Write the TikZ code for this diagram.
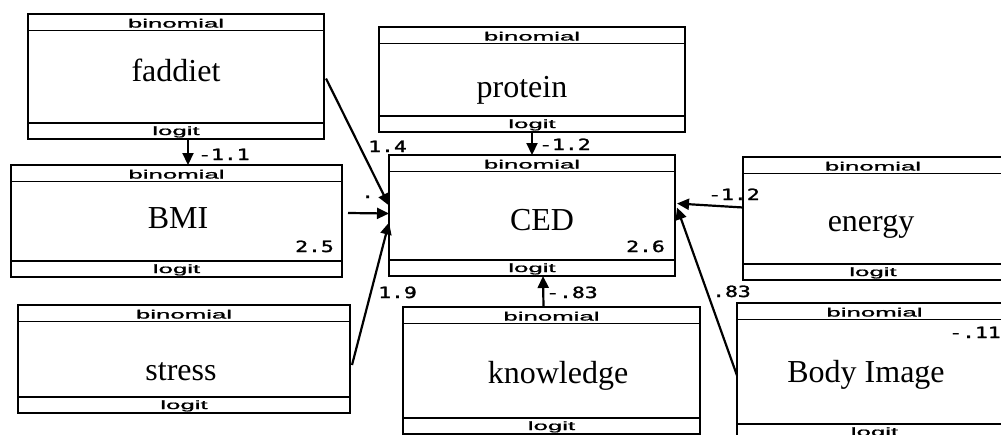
\documentclass[tikz,border=0pt]{standalone}
\usepackage{fontspec}
\setmainfont{Liberation Serif}
\newfontfamily\lblfont[FakeBold=1]{Liberation Sans}
\newfontfamily\numfont[FakeBold=1.5]{DejaVu Sans Mono}
\usetikzlibrary{arrows.meta,calc}
\tikzset{
  box/.style={draw, line width=2.6pt, rectangle, inner sep=0pt, outer sep=0pt},
  sepline/.style={line width=1.7pt},
  hdr/.style={anchor=base, inner sep=0pt, font=\lblfont\fontsize{12}{12}\selectfont},
  ttl/.style={anchor=base, inner sep=0pt, font=\fontsize{32}{32}\selectfont},
  num/.style={anchor=base west, inner sep=0pt, font=\numfont\fontsize{15.5}{15.5}\selectfont},
  arr/.style={line width=2.2pt, -{Triangle[length=12pt,width=11pt]}},
}
\newcommand{\wide}[1]{\scalebox{2.15}[1]{#1}}
\newcommand{\wnum}[1]{\scalebox{1.38}[1]{#1}}
% #1 name, #2 x1, #3 y1, #4 x2, #5 y2, #6 title, #7 title x, #8 title baseline
\newcommand{\semnode}[8]{%
  \node[box, minimum width={(#4)-(#2)}, minimum height={(#5)-(#3)}] (#1) at ({((#2)+(#4))/2},{((#3)+(#5))/2}) {};
  \draw[sepline] ([yshift=-16.5pt]#1.north west) -- ([yshift=-16.5pt]#1.north east);
  \draw[sepline] ([yshift=16pt]#1.south west) -- ([yshift=16pt]#1.south east);
  \node[hdr] (#1-h) at ([yshift=-13.5pt]#1.north) {\wide{binomial}};
  \node[hdr] (#1-f) at ([yshift=4pt]#1.south) {\wide{logit}};
  \node[ttl] (#1-t) at (#7,#8) {#6};
}
\begin{document}
\begin{tikzpicture}[x=1pt,y=-1pt]
\useasboundingbox (0,0) rectangle (1001,434);
\clip (0,0) rectangle (1001,434);
\fill[white] (0,0) rectangle (1001,434);
% coefficient labels
\node[num] (l-fb) at (198,160) {\wnum{-1.1}};
\node[num] (l-pc) at (539,150) {\wnum{-1.2}};
\node[num] (l-fc) at (368,152) {\wnum{1.4}};
\node[num] (l-bmi) at (295,252) {\wnum{2.5}};
\node[num] (l-ced) at (626,252) {\wnum{2.6}};
\node[num] (l-sc) at (378,298) {\wnum{1.9}};
\node[num] (l-kc) at (546,298) {\wnum{-.83}};
\node[num] (l-ec) at (708,200) {\wnum{-1.2}};
\node[num] (l-bc) at (712,297) {\wnum{.83}};
\node[num] (l-body) at (949,338) {\wnum{-.11}};
\node[num] (l-bmic) at (361,198) {\wnum{.}};
% boxes
\semnode{faddiet}{28}{14}{324}{139}{faddiet}{176}{81}
\semnode{protein}{379}{27}{685}{132}{protein}{522}{97}
\semnode{BMI}{11}{165}{342}{277}{BMI}{178}{228}
\semnode{CED}{389}{155}{675}{276}{CED}{542}{230}
\semnode{stress}{18}{305}{350}{413}{stress}{181}{380}
\semnode{knowledge}{403}{307}{700}{434}{knowledge}{558}{383}
\semnode{energy}{743}{157}{1003}{280}{energy}{871}{231}
\semnode{body}{737}{303}{1012}{440}{Body Image}{866}{382}
% connectors
\draw[arr] ($(faddiet.south)+(12,0)$) -- ($(BMI.north)+(11.5,0)$);
\draw[arr] (protein.south) -- (CED.north);
\draw[arr] ($(faddiet.east)+(2,2)$) -- ($(CED.west)+(0,-10)$);
\draw[arr] ($(BMI.east)+(6,-8)$) -- ($(CED.west)+(0,-2)$);
\draw[arr] ($(stress.east)+(2,6)$) -- ($(CED.west)+(0,7)$);
\draw[arr] ($(knowledge.north)+(-8,0)$) -- ($(CED.south)+(11,0)$);
\draw[arr] ($(energy.west)+(0,-11)$) -- ($(CED.east)+(2,-12)$);
\draw[arr] ($(body.west)+(0,4)$) -- ($(CED.east)+(2,-8)$);
\end{tikzpicture}
\end{document}
